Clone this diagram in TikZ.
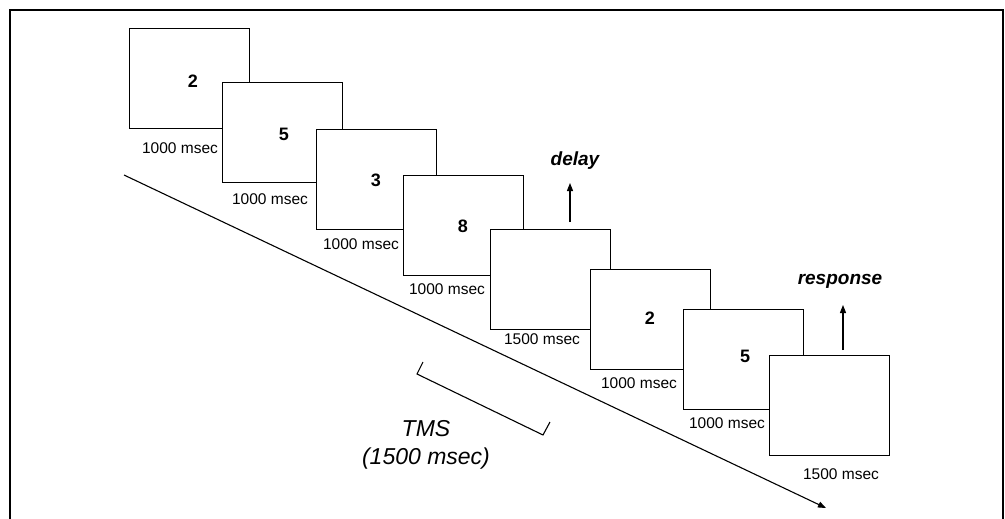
\documentclass[tikz,border=0pt]{standalone}
\usepackage{fontspec}
\setmainfont{Liberation Sans}
\usetikzlibrary{arrows.meta}
\begin{document}
\begin{tikzpicture}[x=1pt,y=-1pt,
  scr/.style={draw=black,fill=white,line width=1.3pt,minimum width=120pt,minimum height=100pt,inner sep=0pt,anchor=north west},
  dig/.style={font=\fontsize{18}{18}\selectfont\bfseries,inner sep=0pt},
  dur/.style={font=\fontsize{15.5}{16}\selectfont,inner sep=0pt},
  evt/.style={font=\fontsize{19}{19}\selectfont\bfseries\itshape,inner sep=0pt},
  tms/.style={font=\fontsize{23}{28}\selectfont\itshape,inner sep=0pt,align=center},
  arr/.style={line width=1.1pt,-{Triangle[length=8pt,width=6pt]}},
  brk/.style={line width=1.1pt}]
\useasboundingbox (0,0) rectangle (1005,519);
% outer frame (open at the bottom)
\draw[line width=2.5pt] (10,519) -- (10,10) -- (1003,10) -- (1003,519);
% timeline
\coordinate (ts) at (124,175);
\coordinate (te) at (826,508);
\draw[arr] (ts) -- (te);
% screens
\node[scr] (b1) at (129,28) {};
\node[scr] (b2) at (222,82) {};
\node[scr] (b3) at (316,129) {};
\node[scr] (b4) at (403,175) {};
\node[scr] (b5) at (490,229) {};
\node[scr] (b6) at (590,269) {};
\node[scr] (b7) at (683,309) {};
\node[scr] (b8) at (769,355) {};
% digits
\node[dig] (d1) at (193,81) {2};
\node[dig] (d2) at (284,134) {5};
\node[dig] (d3) at (376,180) {3};
\node[dig] (d4) at (463,226) {8};
\node[dig] (d6) at (650,318) {2};
\node[dig] (d7) at (745,356) {5};
% durations
\node[dur] (l1) at (180,148) {1000 msec};
\node[dur] (l2) at (270,199) {1000 msec};
\node[dur] (l3) at (361,244) {1000 msec};
\node[dur] (l4) at (447,289) {1000 msec};
\node[dur] (l5) at (542,339) {1500 msec};
\node[dur] (l6) at (639,383) {1000 msec};
\node[dur] (l7) at (727,423) {1000 msec};
\node[dur] (l8) at (841,474) {1500 msec};
% events
\node[evt] (delay) at (575,161) {delay};
\coordinate (da) at (570,222);
\coordinate (db) at (570,183);
\draw[arr] (da) -- (db);
\node[evt] (resp) at (840,281) {response};
\coordinate (ra) at (843,350);
\coordinate (rb) at (843,305);
\draw[arr] (ra) -- (rb);
% TMS bracket
\coordinate (t1) at (423,362);
\coordinate (bl) at (417,374);
\coordinate (br) at (543,435);
\coordinate (t2) at (550,422);
\draw[brk] (t1) -- (bl) -- (br) -- (t2);
\node[tms] (tmslab) at (426,445) {TMS\\(1500 msec)};
\end{tikzpicture}
\end{document}
